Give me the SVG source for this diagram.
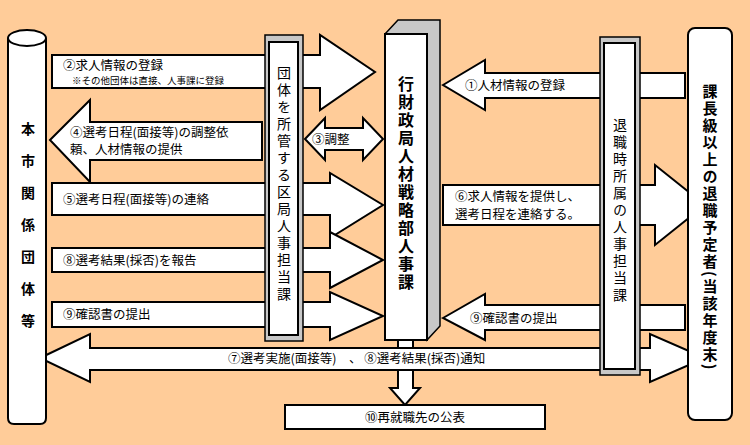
<svg xmlns="http://www.w3.org/2000/svg" width="750" height="445" viewBox="0 0 750 445">
<style>
.s{fill:#fff;stroke:#000;stroke-width:2;stroke-linejoin:miter}
.g{fill:#c8c8c8;stroke:#000;stroke-width:1.5}
.t{font-family:"Noto Sans CJK JP",sans-serif;font-size:12.5px;fill:#000}
.v{font-family:"Noto Sans CJK JP",sans-serif;font-size:14px;writing-mode:vertical-rl;fill:#000}
.b{font-weight:bold}
</style>
<rect width="750" height="445" fill="#FFCC99"/>
<g id="connectors">
<path class="s" d="M52,55H320V35L375,72L320,110V88H52Z"/>
<path class="s" d="M50,140L90,100V122H262V160H90V182Z"/>
<path class="s" d="M305,139L325,118V128H363V118L383,139L363,160V150H325V160Z"/>
<path class="s" d="M52,183H330V173L383,205L330,238V215H52Z"/>
<path class="s" d="M52,248H330V232L383,260L330,288V272H52Z"/>
<path class="s" d="M52,302H330V292L383,316L330,340V327H52Z"/>
<path class="s" d="M398,338V388H390L405,405L420,388H413V338"/>
<path class="s" d="M40,358L90,334V348H650V334L705,358L650,382V370H90V382Z"/>
<path class="s" d="M443,85L485,60V73H685V98H485V110Z"/>
<path class="s" d="M443,185H655V165L705,205L655,245V225H443Z"/>
<path class="s" d="M443,318L485,294V305H685V330H485V340Z"/>
</g>
<g id="honshi">
<path class="s" d="M8,38V418Q8,424 14,424H40Q46,424 46,418V38"/>
<ellipse class="s" cx="27" cy="38" rx="19" ry="8"/>
<text class="v b" x="28" y="122" style="letter-spacing:18px">本市関係団体等</text>
</g>
<g id="kukyoku">
<rect class="g" x="265" y="35" width="38" height="306"/>
<rect class="s" x="269" y="42" width="29" height="293"/>
<text class="v" x="284" y="66" style="letter-spacing:3px">団体を所管する区局人事担当課</text>
</g>
<g id="jinji">
<path class="g" d="M385,34L398,20H440V326L427,340Z"/>
<rect class="s" x="385" y="34" width="42" height="306"/>
<text class="v b" x="406" y="76" style="font-size:16px;letter-spacing:2px">行財政局人材戦略部人事課</text>
</g>
<g id="taishoku">
<rect class="g" x="600" y="37" width="40" height="338"/>
<rect class="s" x="604" y="43" width="31" height="326"/>
<text class="v" x="620" y="118" style="letter-spacing:3px">退職時所属の人事担当課</text>
</g>
<g id="kachou">
<rect class="s" x="688" y="28" width="44" height="392" rx="7"/>
<text class="v b" x="710" y="84" style="font-size:15px;letter-spacing:2px">課長級以上の退職予定者(当該年度末)</text>
</g>
<g id="kouhyou">
<rect class="s" x="285" y="405" width="260" height="24"/>
<text class="t" x="415" y="422" text-anchor="middle">⑩再就職先の公表</text>
</g>
<g id="labels">
<text class="t" x="63" y="70">②求人情報の登録</text>
<text class="t" x="72" y="84" style="font-size:9.5px">※その他団体は直接、人事課に登録</text>
<text class="t" x="70" y="137">④選考日程(面接等)の調整依</text>
<text class="t" x="70" y="154">頼、人材情報の提供</text>
<text class="t" x="312" y="144">③調整</text>
<text class="t" x="63" y="204">⑤選考日程(面接等)の連絡</text>
<text class="t" x="63" y="265">⑧選考結果(採否)を報告</text>
<text class="t" x="63" y="319">⑨確認書の提出</text>
<text class="t" x="228" y="363">⑦選考実施(面接等)　、 ⑧選考結果(採否)通知</text>
<text class="t" x="465" y="90">①人材情報の登録</text>
<text class="t" x="455" y="201">⑥求人情報を提供し、</text>
<text class="t" x="455" y="219">選考日程を連絡する。</text>
<text class="t" x="470" y="323">⑨確認書の提出</text>
</g>
</svg>
